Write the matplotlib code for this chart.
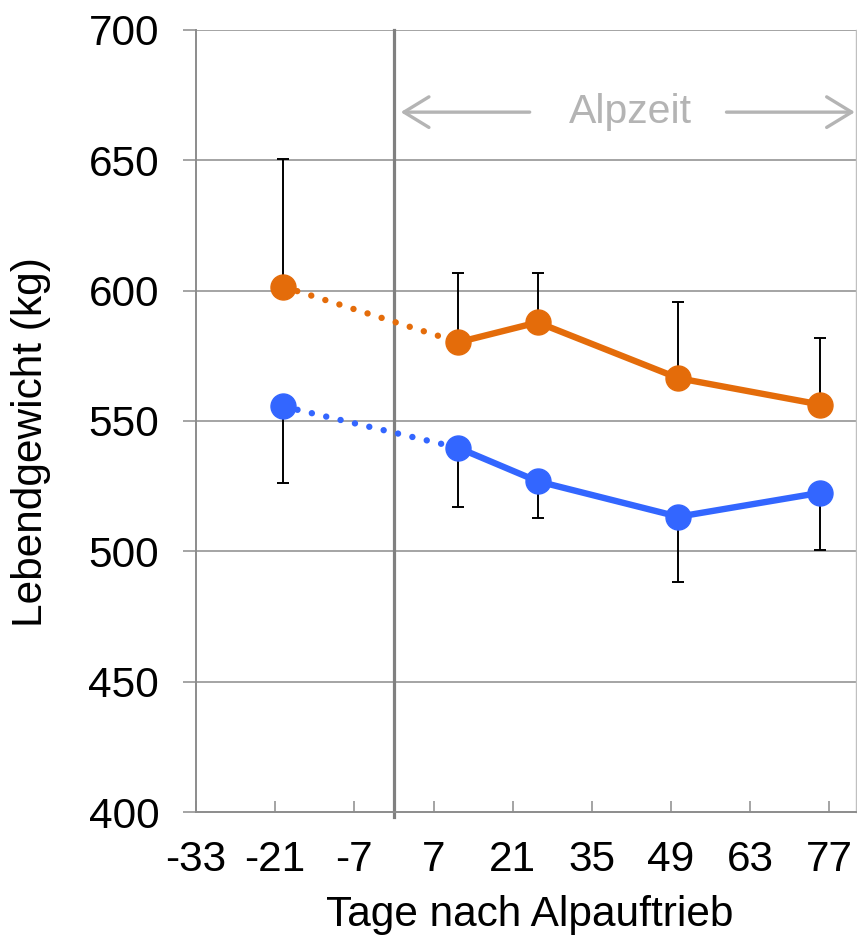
import matplotlib
matplotlib.use("Agg")
import matplotlib.pyplot as plt

plt.rcParams['font.family'] = ['Liberation Sans', 'DejaVu Sans']

# data
days = [-19.6, 11.4, 25.4, 50.3, 75.4]
orange_mean = [601.5, 580.2, 587.8, 566.4, 556.3]
orange_err_up = [49.0, 26.6, 18.8, 29.1, 25.6]
blue_mean = [555.6, 539.7, 526.9, 513.3, 522.5]
blue_err_down = [29.4, 22.7, 14.2, 24.9, 22.0]
xtick_pos = [-35, -21, -7, 7, 21, 35, 49, 63, 77]
xtick_labels = ['-33', '-21', '-7', '7', '21', '35', '49', '63', '77']
yticks = [400, 450, 500, 550, 600, 650, 700]

ORANGE = '#E46C0A'
BLUE = '#3366FF'
GRID = '#8C8C8C'
LIGHT = '#B4B4B4'

fig = plt.figure(figsize=(8.57, 9.42), dpi=100)
ax = fig.add_axes([196/857, 1-812.3/942, (856-196)/857, (812.3-29.7)/942])

ax.set_xlim(-35, 81.7)
ax.set_ylim(400, 700)

for y in yticks[1:]:
    ax.axhline(y, color=GRID, lw=1.1, zorder=1)

ax.axvline(0, color='#808080', lw=2.3, zorder=2, ymin=-0.006, ymax=1, clip_on=False)

# error bars
ax.errorbar(days, orange_mean, yerr=[[0]*5, orange_err_up], fmt='none',
            ecolor='black', elinewidth=1.4, capsize=4.5, capthick=1.4, zorder=3)
ax.errorbar(days, blue_mean, yerr=[blue_err_down, [0]*5], fmt='none',
            ecolor='black', elinewidth=1.4, capsize=4.5, capthick=1.4, zorder=3)

for mean, col in [(orange_mean, ORANGE), (blue_mean, BLUE)]:
    ax.plot(days[:2], mean[:2], color=col, lw=4.6, linestyle=(0, (0.01, 2.3)),
            dash_capstyle='round', zorder=4)
    ax.plot(days[1:], mean[1:], color=col, lw=4.6, solid_capstyle='round', zorder=4)
    ax.plot(days, mean, 'o', color=col, markersize=18, zorder=5)

ax.set_xticks(xtick_pos)
ax.set_xticklabels(xtick_labels)
ax.set_yticks(yticks)
ax.tick_params(axis='x', direction='in', length=8, width=1.1, color=GRID,
               labelsize=30.5, pad=20)
ax.tick_params(axis='y', direction='out', length=9.5, width=1.1, color=GRID,
               labelsize=30.5, pad=17)

for side in ['left', 'bottom']:
    ax.spines[side].set_color(GRID)
    ax.spines[side].set_linewidth(1.4)
ax.spines['top'].set_visible(False)
ax.spines['right'].set_color('#C0C0C0')
ax.spines['right'].set_linewidth(1.0)

# Alpzeit annotation
ya = 668.4
ax.annotate('', xy=(1.2, ya), xytext=(24.0, ya),
            arrowprops=dict(arrowstyle='->,head_length=0.9,head_width=0.55',
                            color=LIGHT, lw=2.4, mutation_scale=20,
                            shrinkA=0, shrinkB=0))
ax.annotate('', xy=(81.5, ya), xytext=(58.8, ya),
            arrowprops=dict(arrowstyle='->,head_length=0.9,head_width=0.55',
                            color=LIGHT, lw=2.4, mutation_scale=20,
                            shrinkA=0, shrinkB=0), annotation_clip=False)
ax.text(41.8, ya, 'Alpzeit', color=LIGHT, fontsize=29.5, ha='center', va='center')

fig.text(530/857, 1-915/942, 'Tage nach Alpauftrieb', fontsize=30.5, ha='center', va='center')
fig.text(31/857, 1-442/942, 'Lebendgewicht (kg)', fontsize=30.5, rotation=90,
         ha='center', va='center')

fig.savefig('out.png', dpi=100)
